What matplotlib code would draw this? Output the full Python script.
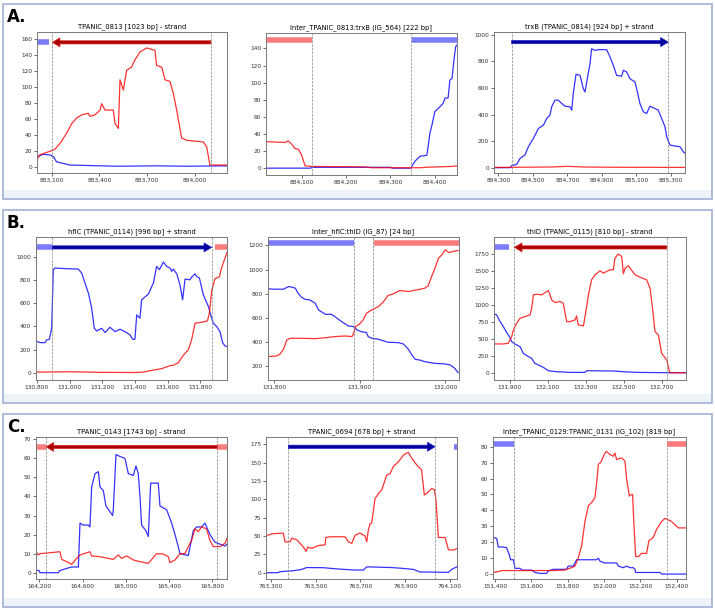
import matplotlib
matplotlib.use("Agg")
import matplotlib.pyplot as plt
from matplotlib.patches import Rectangle
from matplotlib.ticker import FuncFormatter, FixedLocator

# ---------------- data ----------------
# A1  TPANIC_0813
a1_title = "TPANIC_0813 [1023 bp] - strand"
a1_xlim = (883008, 884201)
a1_ylim = (-8, 169)
a1_gene = (883104, 884100)
a1_xticks = [883100, 883400, 883700, 884000]
a1_yticks = [0, 20, 40, 60, 80, 100, 120, 140, 160]
a1_red_x = [883008, 883027, 883100, 883121, 883152, 883194, 883226, 883257, 883288, 883330, 883341,
            883372, 883404, 883414, 883435, 883487, 883498, 883519, 883529, 883550, 883571, 883602,
            883623, 883655, 883697, 883749, 883759, 883791, 883812, 883843, 883864, 883885, 883916,
            883948, 884052, 884073, 884094, 884201]
a1_red_y = [9, 15, 20, 22, 29, 42, 54, 61, 65, 67, 63, 65, 71, 79, 71, 71, 54, 48, 109, 96, 121, 125,
            134, 144, 149, 146, 127, 125, 109, 107, 92, 71, 36, 33, 31, 25, 2, 2]
a1_blue_x = [883008, 883048, 883090, 883111, 883131, 883173, 883215, 883404, 883508, 883759, 883948, 884201]
a1_blue_y = [12.5, 15.5, 14.6, 12.5, 6, 4, 2, 1, 0.5, 1, 0.5, 1]
a1_feats = [("bbar", 883008, 883085), ("rev", 883104, 884100)]
a1_bar_y = 156

# A2  intergenic 564
a2_title = "Inter_TPANIC_0813:trxB (IG_564) [222 bp]"
a2_xlim = (884020, 884450)
a2_ylim = (-8, 158)
a2_gene = (884124, 884346)
a2_xticks = [884100, 884200, 884300, 884400]
a2_yticks = [0, 20, 40, 60, 80, 100, 120, 140]
a2_red_x = [884020, 884063, 884070, 884078, 884085, 884093, 884100, 884108, 884123, 884243, 884258,
            884370, 884378, 884438, 884450]
a2_red_y = [31, 30, 32, 28, 23, 22, 15.5, 2.7, 2, 1.5, 0.5, 0.5, 1, 2, 2.7]
a2_blue_x = [884020, 884120, 884125, 884300, 884305, 884346, 884355, 884367, 884382, 884385, 884389,
             884393, 884400, 884412, 884419, 884423, 884430, 884434, 884439, 884443, 884447, 884450]
a2_blue_y = [0, 0, 1, 1, 0, 0, 8, 14, 15, 25, 41, 49, 66, 72, 76, 82, 82, 103, 105, 126, 142, 144]
a2_feats = [("rbar", 884020, 884124), ("bbar", 884348, 884450)]
a2_bar_y = 150

# A3  trxB
a3_title = "trxB (TPANIC_0814) [924 bp] + strand"
a3_xlim = (884275, 885381)
a3_ylim = (-40, 1021)
a3_gene = (884377, 885284)
a3_xticks = [884300, 884500, 884700, 884900, 885100, 885300]
a3_yticks = [0, 200, 400, 600, 800, 1000]
a3_red_x = [884275, 884600, 884700, 884800, 885000, 885381]
a3_red_y = [2, 5, 10, 5, 3, 2]
a3_blue_x = [884275, 884370, 884377, 884406, 884426, 884454, 884474, 884503, 884532, 884561, 884580,
             884599, 884609, 884628, 884647, 884667, 884686, 884715, 884725, 884734, 884750, 884773,
             884792, 884802, 884812, 884831, 884840, 884860, 884879, 884927, 884943, 884966, 884985,
             885014, 885024, 885043, 885062, 885091, 885101, 885120, 885140, 885159, 885178, 885207,
             885226, 885246, 885265, 885275, 885294, 885323, 885352, 885371, 885381]
a3_blue_y = [0, 0, 15, 25, 70, 95, 158, 220, 295, 320, 370, 395, 458, 508, 508, 483, 463, 458, 433,
             558, 703, 695, 595, 570, 645, 783, 895, 883, 888, 888, 845, 770, 695, 688, 733, 720, 670,
             645, 595, 483, 420, 408, 463, 445, 433, 370, 308, 233, 170, 163, 158, 120, 108]
a3_feats = [("fwd", 884377, 885284)]
a3_bar_y = 945

# B1  hflC
b1_title = "hflC (TPANIC_0114) [996 bp] + strand"
b1_xlim = (130794, 131964)
b1_ylim = (-63, 1173)
b1_gene = (130894, 131870)
b1_xticks = [130800, 131000, 131200, 131400, 131600, 131800]
b1_yticks = [0, 200, 400, 600, 800, 1000]
b1_blue_x = [130794, 130818, 130849, 130859, 130876, 130890, 130900, 130910, 130982, 131053, 131074,
             131094, 131115, 131135, 131151, 131166, 131186, 131196, 131217, 131247, 131278, 131309,
             131339, 131370, 131386, 131400, 131411, 131431, 131441, 131482, 131513, 131533, 131550,
             131574, 131594, 131615, 131625, 131635, 131656, 131676, 131692, 131707, 131737, 131748,
             131768, 131778, 131795, 131819, 131850, 131864, 131880, 131901, 131921, 131937, 131952,
             131964]
b1_blue_y = [275, 260, 260, 283, 289, 384, 890, 905, 899, 896, 861, 775, 688, 558, 384, 361, 376,
             384, 347, 393, 355, 376, 355, 327, 289, 289, 500, 471, 630, 679, 775, 919, 890, 957,
             919, 905, 876, 896, 855, 760, 630, 809, 803, 827, 855, 832, 818, 673, 572, 500, 428,
             399, 355, 260, 231, 225]
b1_red_x = [130794, 131000, 131200, 131400, 131450, 131513, 131564, 131615, 131635, 131666, 131696,
            131727, 131748, 131768, 131799, 131829, 131844, 131856, 131870, 131890, 131917, 131931,
            131964]
b1_red_y = [5, 8, 3, 2, 5, 23, 35, 61, 64, 87, 150, 199, 289, 428, 434, 442, 448, 514, 705, 812,
            829, 907, 1040]
b1_feats = [("bbar", 130794, 130889), ("fwd", 130894, 131870), ("rbar", 131890, 131964)]
b1_bar_y = 1083

# B2  intergenic 87
b2_title = "Inter_hflC:thiD (IG_87) [24 bp]"
b2_xlim = (131793, 132016)
b2_ylim = (84, 1270)
b2_gene = (131893, 131916)
b2_xticks = [131800, 131900, 132000]
b2_yticks = [200, 400, 600, 800, 1000, 1200]
b2_blue_x = [131793, 131801, 131811, 131817, 131821, 131825, 131828, 131832, 131836, 131842, 131848,
             131852, 131860, 131867, 131871, 131879, 131887, 131893, 131897, 131902, 131908, 131910,
             131914, 131922, 131933, 131945, 131951, 131957, 131961, 131965, 131970, 131976, 131988,
             132000, 132006, 132011, 132015]
b2_blue_y = [840, 837, 837, 859, 854, 845, 804, 771, 754, 748, 721, 665, 629, 629, 610, 568, 532,
             527, 499, 485, 477, 444, 430, 422, 397, 394, 383, 338, 291, 255, 250, 236, 222, 217,
             208, 181, 145]
b2_red_x = [131793, 131803, 131807, 131811, 131815, 131819, 131832, 131848, 131860, 131871, 131883,
            131891, 131893, 131895, 131900, 131904, 131908, 131914, 131922, 131928, 131933, 131939,
            131947, 131957, 131967, 131976, 131980, 131984, 131988, 131992, 131996, 132000, 132004,
            132009, 132015]
b2_red_y = [278, 283, 300, 339, 416, 430, 430, 427, 435, 444, 449, 444, 471, 527, 549, 582, 638,
            665, 693, 735, 784, 798, 826, 818, 832, 845, 865, 942, 1012, 1095, 1122, 1164, 1142,
            1150, 1158]
b2_feats = [("bbar", 131793, 131893), ("rbar", 131917, 132016)]
b2_bar_y = 1220

# B3  thiD
b3_title = "thiD (TPANIC_0115) [810 bp] - strand"
b3_xlim = (131817, 132826)
b3_ylim = (-107, 1996)
b3_gene = (131924, 132725)
b3_xticks = [131900, 132100, 132300, 132500, 132700]
b3_yticks = [0, 250, 500, 750, 1000, 1250, 1500, 1750]
b3_blue_x = [131822, 131831, 131849, 131866, 131884, 131898, 131910, 131927, 131954, 131971, 131992,
             132015, 132032, 132059, 132076, 132103, 132146, 132216, 132295, 132304, 132339, 132444,
             132497, 132567, 132742, 132826]
b3_blue_y = [860, 850, 752, 678, 590, 531, 457, 423, 383, 285, 246, 211, 138, 103, 79, 29, 15, 5,
             5, 29, 29, 25, 15, 5, 0, 0]
b3_red_x = [131822, 131866, 131892, 131910, 131919, 131936, 131954, 131980, 132006, 132015, 132024,
            132041, 132068, 132094, 132103, 132120, 132138, 132164, 132181, 132199, 132216, 132243,
            132251, 132260, 132287, 132304, 132313, 132330, 132348, 132374, 132392, 132409, 132427,
            132444, 132453, 132470, 132488, 132497, 132506, 132523, 132541, 132558, 132584, 132619,
            132637, 132651, 132663, 132681, 132698, 132711, 132725, 132737, 132742, 132826]
b3_red_y = [423, 423, 433, 531, 629, 728, 801, 826, 850, 949, 1145, 1155, 1145, 1195, 1209, 1072,
            1032, 1047, 1023, 752, 752, 777, 836, 703, 688, 973, 1145, 1367, 1440, 1499, 1465, 1490,
            1514, 1514, 1686, 1745, 1711, 1455, 1539, 1573, 1504, 1440, 1406, 1367, 1244, 924, 605,
            555, 285, 236, 187, 39, 0, 0]
b3_feats = [("bbar", 131822, 131898), ("rev", 131924, 132725)]
b3_bar_y = 1843

# C1  TPANIC_0143
c1_title = "TPANIC_0143 [1743 bp] - strand"
c1_xlim = (164169, 165936)
c1_ylim = (-3.3, 71.2)
c1_gene = (164262, 165846)
c1_xticks = [164200, 164600, 165000, 165400, 165800]
c1_yticks = [0, 10, 20, 30, 40, 50, 60, 70]
c1_blue_x = [164169, 164200, 164206, 164376, 164385, 164437, 164499, 164561, 164576, 164607, 164653,
             164668, 164684, 164715, 164746, 164761, 164792, 164816, 164853, 164878, 164884, 164909,
             164946, 164992, 165023, 165069, 165094, 165115, 165131, 165146, 165186, 165208, 165230,
             165300, 165316, 165378, 165424, 165455, 165479, 165501, 165578, 165624, 165655, 165701,
             165732, 165763, 165778, 165825, 165871, 165917, 165936]
c1_blue_y = [1.4, 1, 0, 0, 1, 2, 3, 3, 26, 25, 25, 24, 45, 52, 53, 45, 43, 35, 32, 30, 33, 62, 61,
             60, 52, 51, 56, 52, 40, 25, 22, 19, 47, 47, 35, 33, 26, 20, 15, 10, 9, 22, 24, 24, 26,
             22, 20, 16, 15, 14, 15]
c1_red_x = [164169, 164191, 164206, 164391, 164406, 164453, 164499, 164545, 164576, 164668, 164684,
            164761, 164884, 164930, 164961, 165008, 165069, 165131, 165208, 165285, 165347, 165393,
            165408, 165455, 165501, 165547, 165578, 165609, 165640, 165670, 165701, 165747, 165778,
            165809, 165871, 165917, 165936]
c1_red_y = [11, 9.3, 10, 11, 7, 5.8, 4.4, 7.5, 9.3, 11, 8.8, 8.4, 7, 9.3, 7.5, 8.8, 6.7, 5.8, 4.9,
            10, 9.8, 8.4, 5.3, 6.7, 10, 10, 13.7, 17, 23, 21.5, 24, 23, 17, 13.7, 13.7, 15.4, 18]
c1_feats = [("rbar", 164169, 164262), ("rev", 164262, 165846), ("rbar", 165846, 165936)]
c1_bar_y = 66

# C2  TPANIC_0694
c2_title = "TPANIC_0694 [678 bp] + strand"
c2_xlim = (763278, 764131)
c2_ylim = (-8.6, 185)
c2_gene = (763378, 764033)
c2_xticks = [763300, 763500, 763700, 763900, 764100]
c2_yticks = [0, 25, 50, 75, 100, 125, 150, 175]
c2_red_x = [763278, 763303, 763355, 763363, 763385, 763393, 763415, 763430, 763445, 763457, 763464,
            763482, 763512, 763542, 763545, 763564, 763631, 763646, 763661, 763676, 763698, 763720,
            763728, 763735, 763743, 763750, 763765, 763780, 763795, 763817, 763832, 763847, 763869,
            763891, 763906, 763914, 763929, 763951, 763973, 763985, 764003, 764018, 764030, 764037,
            764048, 764078, 764093, 764115, 764131]
c2_red_y = [50, 53, 54, 42, 42, 47, 45, 40, 35, 29, 35, 33, 37, 38, 48, 49, 49, 42, 40, 51, 54, 50,
            42, 58, 67, 68, 101, 108, 113, 133, 135, 145, 151, 160, 163, 164, 156, 147, 140, 106,
            110, 115, 113, 99, 48, 48, 31, 31, 33]
c2_blue_x = [763278, 763333, 763341, 763400, 763437, 763460, 763534, 763601, 763676, 763713, 763728,
             763839, 763884, 763936, 763966, 764078, 764093, 764107, 764131]
c2_blue_y = [0, 0, 1.4, 2.7, 4.5, 7, 6.8, 5, 3.6, 3.6, 8, 7, 6, 4.5, 1, 0.5, 0.5, 4.5, 8]
c2_feats = [("fwd", 763378, 764033), ("bbar", 764118, 764131)]
c2_bar_y = 171.7

# C3  intergenic 102
c3_title = "Inter_TPANIC_0129:TPANIC_0131 (IG_102) [819 bp]"
c3_xlim = (151389, 152451)
c3_ylim = (-3.1, 86.1)
c3_gene = (151506, 152345)
c3_xticks = [151400, 151600, 151800, 152000, 152200, 152400]
c3_yticks = [0, 10, 20, 30, 40, 50, 60, 70, 80]
c3_red_x = [151391, 151418, 151437, 151721, 151785, 151794, 151822, 151840, 151858, 151877, 151895,
            151904, 151914, 151932, 151950, 151959, 151969, 151981, 152005, 152014, 152033, 152051,
            152060, 152069, 152097, 152115, 152124, 152139, 152152, 152157, 152165, 152174, 152189,
            152207, 152234, 152247, 152271, 152289, 152317, 152335, 152354, 152372, 152390, 152409,
            152451]
c3_red_y = [1, 1.5, 2.2, 2.2, 2.5, 3, 4, 5, 10, 18, 33, 38, 43, 45, 48, 57, 69, 70, 76, 77, 75, 74,
            76, 72, 73, 71, 60, 49, 50, 50, 30, 11, 11, 13, 13, 21, 23, 28, 33, 35, 34, 33, 31, 29,
            29]
c3_blue_x = [151391, 151409, 151418, 151446, 151464, 151479, 151486, 151501, 151510, 151538, 151547,
             151602, 151620, 151648, 151684, 151693, 151721, 151794, 151803, 151831, 151840, 151849,
             151959, 151969, 151978, 152005, 152069, 152079, 152106, 152124, 152143, 152161, 152170,
             152174, 152308, 152317, 152451]
c3_blue_y = [23, 22.4, 17, 17, 16.5, 12, 9, 9, 3.6, 3.6, 2.5, 2.5, 1, 0.4, 0.4, 2, 3, 3, 5, 5, 7,
             9, 9, 10, 8, 7, 7, 5, 4, 5, 4, 4, 3, 1, 1, 0, 0]
c3_feats = [("bbar", 151391, 151506), ("rbar", 152345, 152451)]
c3_bar_y = 81.5

panels = ["A.", "B.", "C."]

# ---------------- layout (pixels) ----------------
W, H = 715, 610
fig = plt.figure(figsize=(W / 100, H / 100), dpi=100)


def px_axes(x0, y0, x1, y1):
    return fig.add_axes([x0 / W, 1 - y1 / H, (x1 - x0) / W, (y1 - y0) / H])


# panel boxes
boxes = [(3, 4, 712, 199), (3, 210, 712, 403), (3, 414, 712, 607)]
for (bx0, by0, bx1, by1), lab in zip(boxes, panels):
    fig.patches.append(Rectangle((bx0 / W, 1 - by1 / H), (bx1 - bx0) / W, 9 / H,
                                 transform=fig.transFigure, facecolor="#eef2f9", edgecolor="none"))
    fig.patches.append(Rectangle((bx0 / W, 1 - by1 / H), (bx1 - bx0) / W, (by1 - by0) / H,
                                 transform=fig.transFigure, facecolor="none",
                                 edgecolor="#a9b6d9", lw=1.3))
    fig.text((bx0 + 4) / W, 1 - (by0 + 4) / H, lab, fontsize=12, fontweight="bold",
             ha="left", va="top")

comma = FuncFormatter(lambda v, p: f"{v:,.0f}")


def draw(ax, title, xlim, ylim, gene, xt, yt, rx, ry, bx, by, feats, bar_y):
    ax.plot(bx, by, color="blue", lw=0.9, alpha=0.8)
    ax.plot(rx, ry, color="red", lw=0.9, alpha=0.8)
    for g in gene:
        ax.axvline(g, color="grey", ls="--", lw=0.5)
    for kind, f0, f1 in feats:
        if kind == "bbar":
            ax.hlines(bar_y, f0, f1, color="#7c7cfb", lw=4)
        elif kind == "rbar":
            ax.hlines(bar_y, f0, f1, color="#fb7c7c", lw=4)
        elif kind == "fwd":
            ax.annotate("", xy=(f1, bar_y), xytext=(f0, bar_y),
                        arrowprops=dict(width=2.3, headwidth=6.5, headlength=5.5,
                                        facecolor="#00009c", edgecolor="#1c1cc4", lw=0.5))
        else:
            ax.annotate("", xy=(f0, bar_y), xytext=(f1, bar_y),
                        arrowprops=dict(width=2.3, headwidth=6.5, headlength=5.5,
                                        facecolor="#aa0000", edgecolor="#e02424", lw=0.5))
    ax.set_xlim(*xlim)
    ax.set_ylim(*ylim)
    ax.xaxis.set_major_locator(FixedLocator(xt))
    ax.yaxis.set_major_locator(FixedLocator(yt))
    ax.xaxis.set_major_formatter(comma)
    ax.tick_params(labelsize=4.2, length=2, width=0.5, pad=1.5, colors="#333333")
    for s in ax.spines.values():
        s.set_color("#7a7a7a")
        s.set_linewidth(0.7)
    ax.set_title(title, fontsize=4.9, pad=2.5)


specs = [
    ((37, 32, 227, 173), a1_title, a1_xlim, a1_ylim, a1_gene, a1_xticks, a1_yticks, a1_red_x, a1_red_y, a1_blue_x, a1_blue_y, a1_feats, a1_bar_y),
    ((266, 33, 457, 175), a2_title, a2_xlim, a2_ylim, a2_gene, a2_xticks, a2_yticks, a2_red_x, a2_red_y, a2_blue_x, a2_blue_y, a2_feats, a2_bar_y),
    ((494, 32, 685, 173), a3_title, a3_xlim, a3_ylim, a3_gene, a3_xticks, a3_yticks, a3_red_x, a3_red_y, a3_blue_x, a3_blue_y, a3_feats, a3_bar_y),
    ((36, 237, 227, 380), b1_title, b1_xlim, b1_ylim, b1_gene, b1_xticks, b1_yticks, b1_red_x, b1_red_y, b1_blue_x, b1_blue_y, b1_feats, b1_bar_y),
    ((268, 237, 459, 380), b2_title, b2_xlim, b2_ylim, b2_gene, b2_xticks, b2_yticks, b2_red_x, b2_red_y, b2_blue_x, b2_blue_y, b2_feats, b2_bar_y),
    ((494, 237, 686, 380), b3_title, b3_xlim, b3_ylim, b3_gene, b3_xticks, b3_yticks, b3_red_x, b3_red_y, b3_blue_x, b3_blue_y, b3_feats, b3_bar_y),
    ((36, 437, 227, 579), c1_title, c1_xlim, c1_ylim, c1_gene, c1_xticks, c1_yticks, c1_red_x, c1_red_y, c1_blue_x, c1_blue_y, c1_feats, c1_bar_y),
    ((266, 437, 457, 579), c2_title, c2_xlim, c2_ylim, c2_gene, c2_xticks, c2_yticks, c2_red_x, c2_red_y, c2_blue_x, c2_blue_y, c2_feats, c2_bar_y),
    ((493, 437, 686, 579), c3_title, c3_xlim, c3_ylim, c3_gene, c3_xticks, c3_yticks, c3_red_x, c3_red_y, c3_blue_x, c3_blue_y, c3_feats, c3_bar_y),
]

for box, *rest in specs:
    ax = px_axes(*box)
    draw(ax, *rest)

fig.savefig("out.png", dpi=100)
